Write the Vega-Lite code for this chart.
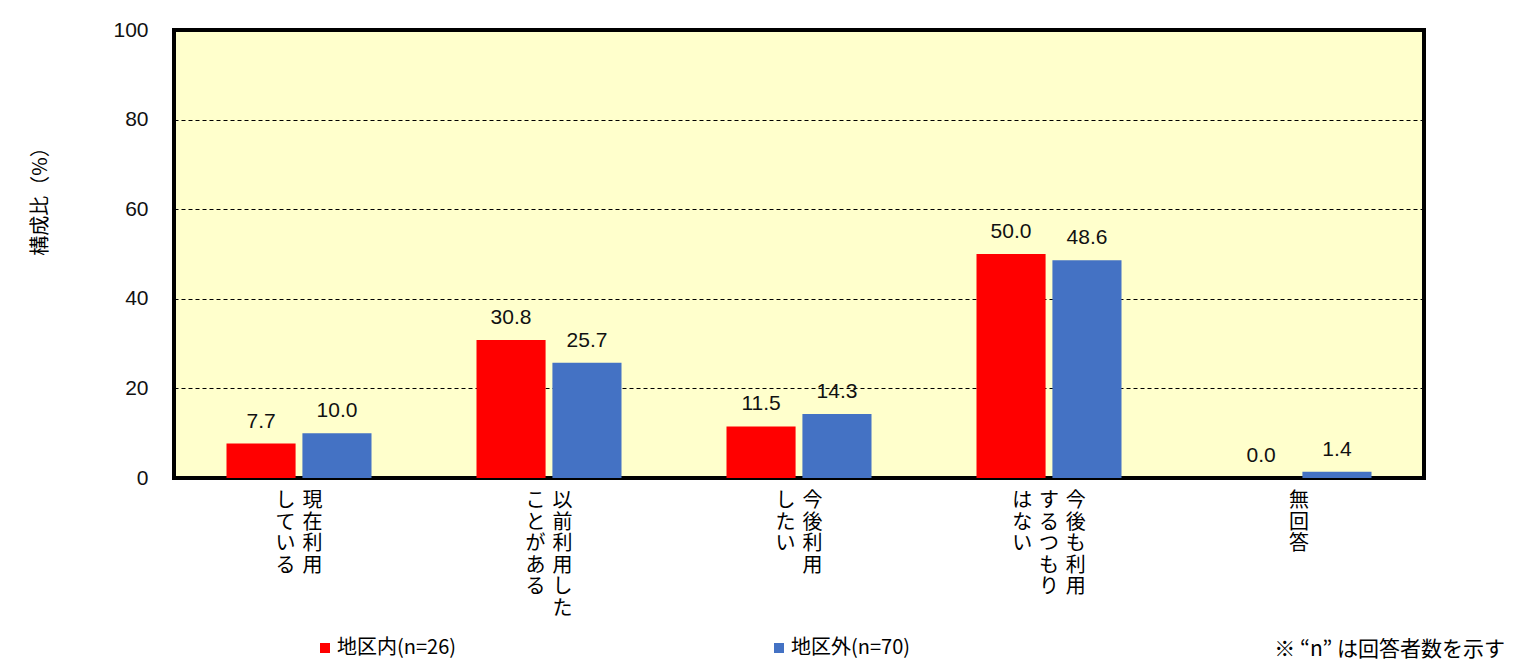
{
  "$schema": "https://vega.github.io/schema/vega-lite/v6.json",
  "width": 1250,
  "height": 448,
  "autosize": "none",
  "padding": {"left": 174, "top": 30, "right": 98, "bottom": 183},
  "background": "white",
  "title": {
    "text": "※ “n” は回答者数を示す",
    "orient": "bottom",
    "anchor": "end",
    "frame": "group",
    "font": "Noto Sans CJK JP",
    "fontSize": 21,
    "fontWeight": "normal",
    "color": "#000",
    "offset": 0,
    "dx": 81,
    "dy": -19
  },
  "config": {
    "view": {"stroke": "#000", "strokeWidth": 4, "fill": "#FFFFCC"}
  },
  "datasets": {
    "bars": [
      {"cat": "現在利用している", "series": "地区内(n=26)", "value": 7.7},
      {"cat": "現在利用している", "series": "地区外(n=70)", "value": 10.0},
      {"cat": "以前利用したことがある", "series": "地区内(n=26)", "value": 30.8},
      {"cat": "以前利用したことがある", "series": "地区外(n=70)", "value": 25.7},
      {"cat": "今後利用したい", "series": "地区内(n=26)", "value": 11.5},
      {"cat": "今後利用したい", "series": "地区外(n=70)", "value": 14.3},
      {"cat": "今後も利用するつもりはない", "series": "地区内(n=26)", "value": 50.0},
      {"cat": "今後も利用するつもりはない", "series": "地区外(n=70)", "value": 48.6},
      {"cat": "無回答", "series": "地区内(n=26)", "value": 0.0},
      {"cat": "無回答", "series": "地区外(n=70)", "value": 1.4}
    ],
    "labels": [
      {"cat": "現在利用している", "col": "現在利用", "k": 0, "n": 2},
      {"cat": "現在利用している", "col": "している", "k": 1, "n": 2},
      {"cat": "以前利用したことがある", "col": "以前利用した", "k": 0, "n": 2},
      {"cat": "以前利用したことがある", "col": "ことがある", "k": 1, "n": 2},
      {"cat": "今後利用したい", "col": "今後利用", "k": 0, "n": 2},
      {"cat": "今後利用したい", "col": "したい", "k": 1, "n": 2},
      {"cat": "今後も利用するつもりはない", "col": "今後も利用", "k": 0, "n": 3},
      {"cat": "今後も利用するつもりはない", "col": "するつもり", "k": 1, "n": 3},
      {"cat": "今後も利用するつもりはない", "col": "はない", "k": 2, "n": 3},
      {"cat": "無回答", "col": "無回答", "k": 0, "n": 1}
    ]
  },
  "resolve": {"scale": {"xOffset": "independent"}},
  "layer": [
    {
      "data": {"name": "bars"},
      "encoding": {
        "x": {
          "field": "cat",
          "type": "nominal",
          "sort": null,
          "scale": {
            "domain": ["現在利用している", "以前利用したことがある", "今後利用したい", "今後も利用するつもりはない", "無回答"],
            "paddingInner": 0.42,
            "paddingOuter": 0.21
          },
          "axis": null
        },
        "xOffset": {
          "field": "series",
          "type": "nominal",
          "scale": {"paddingInner": 0.09, "paddingOuter": 0}
        },
        "y": {
          "field": "value",
          "type": "quantitative",
          "scale": {"domain": [0, 100], "nice": false},
          "axis": {
            "values": [0, 20, 40, 60, 80, 100],
            "title": "構成比（%）",
            "titleFont": "Noto Sans CJK JP",
            "titleFontSize": 20,
            "titleFontWeight": "normal",
            "titleColor": "#000",
            "titleX": -134,
            "titleY": 166,
            "titleAngle": -90,
            "titleAlign": "center",
            "titleBaseline": "middle",
            "ticks": false,
            "domain": false,
            "labelPadding": 26,
            "labelFont": "Liberation Sans Narrow, Liberation Sans, sans-serif",
            "labelFontSize": 21,
            "labelColor": "#111",
            "gridColor": "#000",
            "gridDash": [4, 3],
            "gridWidth": 1,
            "gridOpacity": 1
          }
        }
      },
      "layer": [
        {
          "mark": {"type": "bar"},
          "encoding": {
            "color": {
              "field": "series",
              "type": "nominal",
              "scale": {"domain": ["地区内(n=26)", "地区外(n=70)"], "range": ["#FF0000", "#4472C4"]},
              "legend": {
                "title": null,
                "orient": "none",
                "legendX": 141,
                "legendY": 608,
                "direction": "horizontal",
                "columns": 2,
                "columnPadding": 312,
                "padding": 0,
                "symbolType": "square",
                "symbolSize": 100,
                "symbolStrokeWidth": 0,
                "symbolOpacity": 1,
                "labelOffset": 2,
                "labelFont": "Noto Sans CJK JP",
                "labelFontSize": 20,
                "labelColor": "#000",
                "labelLimit": 300
              }
            }
          }
        },
        {
          "mark": {
            "type": "text",
            "baseline": "alphabetic",
            "align": "center",
            "dy": -16,
            "font": "Liberation Sans Narrow, Liberation Sans, sans-serif",
            "fontSize": 21,
            "color": "#111"
          },
          "encoding": {
            "text": {"field": "value", "type": "quantitative", "format": ".1f"}
          }
        }
      ]
    },
    {
      "data": {"name": "labels"},
      "transform": [
        {"calculate": "(datum.n - 1) / 2 - datum.k", "as": "off"},
        {"calculate": "split(datum.col, '')", "as": "chars"}
      ],
      "mark": {
        "type": "text",
        "align": "center",
        "baseline": "top",
        "dy": 13,
        "lineHeight": 21.5,
        "font": "Noto Sans CJK JP",
        "fontSize": 20,
        "color": "#000"
      },
      "encoding": {
        "x": {"field": "cat", "type": "nominal", "sort": null},
        "xOffset": {
          "field": "off",
          "type": "quantitative",
          "scale": {"domain": [-2.7, 2.7], "nice": false, "zero": false}
        },
        "y": {"datum": 0, "type": "quantitative"},
        "text": {"field": "chars"}
      }
    }
  ]
}
